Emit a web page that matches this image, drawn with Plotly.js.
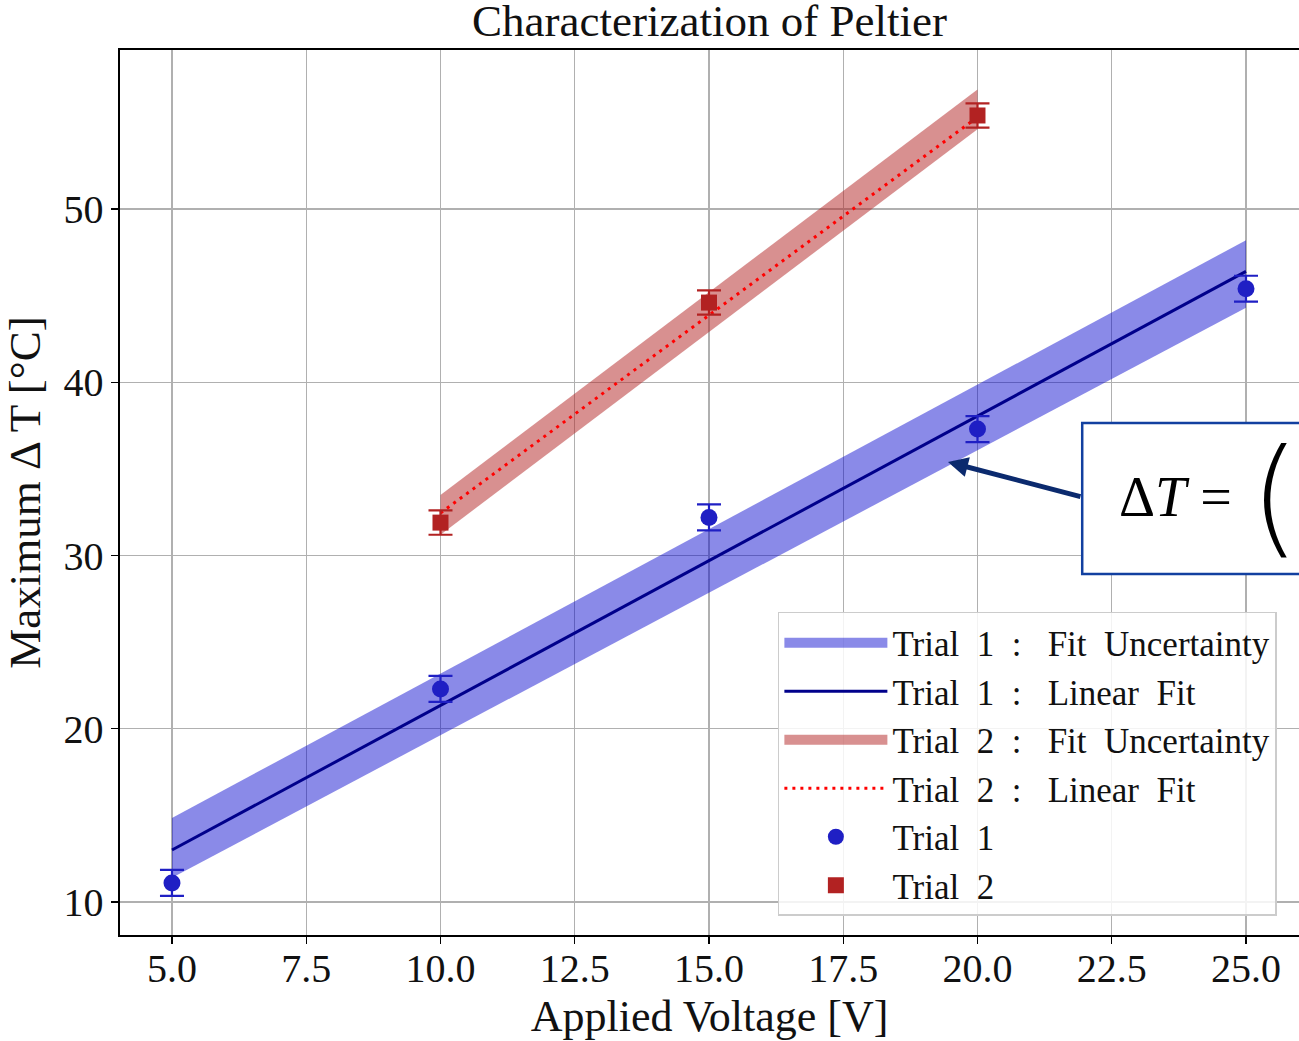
<!DOCTYPE html>
<html>
<head>
<meta charset="utf-8">
<script src="https://cdn.plot.ly/plotly-3.0.1.min.js"></script>
<style>html,body{margin:0;padding:0;background:#fff}#chart{width:1299px;height:1041px}</style>
</head>
<body>
<div id="chart"></div>
<script>
// ---- data ----
const voltage1 = [5, 10, 15, 20, 25];
const deltaT1 = [11.1, 22.3, 32.2, 37.3, 45.4];
const err1 = [0.75, 0.75, 0.75, 0.75, 0.75];

const voltage2 = [10, 15, 20];
const deltaT2 = [31.9, 44.6, 55.4];
const err2 = [0.7, 0.7, 0.7];

const fitX1 = [5, 25];
const fitY1 = [13.0, 46.4];
const fitUpper1 = [14.85, 48.2];
const fitLower1 = [11.4, 44.3];

const fitX2 = [10, 20];
const fitY2 = [32.45, 55.3];
const fitUpper2 = [33.5, 56.9];
const fitLower2 = [31.2, 54.6];

const xTickVals = [5, 7.5, 10, 12.5, 15, 17.5, 20, 22.5, 25];
const xTickText = ["5.0", "7.5", "10.0", "12.5", "15.0", "17.5", "20.0", "22.5", "25.0"];
const yTickVals = [10, 20, 30, 40, 50];

const NB = "\u00A0";
const S2 = NB + " ";
const labels = [
  "Trial" + S2 + "1" + S2 + ":" + NB + NB + " Fit" + S2 + "Uncertainty",
  "Trial" + S2 + "1" + S2 + ":" + NB + NB + " Linear" + S2 + "Fit",
  "Trial" + S2 + "2" + S2 + ":" + NB + NB + " Fit" + S2 + "Uncertainty",
  "Trial" + S2 + "2" + S2 + ":" + NB + NB + " Linear" + S2 + "Fit",
  "Trial" + S2 + "1",
  "Trial" + S2 + "2"
];

const FONT = "Liberation Serif, DejaVu Serif, serif";
const BLUE_BAND = "rgba(0,0,205,0.46)";
const RED_BAND = "rgba(178,34,34,0.5)";

function band(x, up, lo) {
  return {
    x: x.concat(x.slice().reverse()),
    y: up.concat(lo.slice().reverse())
  };
}
const b1 = band(fitX1, fitUpper1, fitLower1);
const b2 = band(fitX2, fitUpper2, fitLower2);

const traces = [
  // legend swatches for the bands (no data drawn)
  {x: [null], y: [null], type: "scatter", mode: "lines", legendgroup: "b1",
   line: {color: BLUE_BAND, width: 28}, name: labels[0], hoverinfo: "skip"},
  {x: b1.x, y: b1.y, type: "scatter", mode: "none", fill: "toself", legendgroup: "b1",
   fillcolor: BLUE_BAND, showlegend: false, hoverinfo: "skip"},
  {x: fitX1, y: fitY1, type: "scatter", mode: "lines",
   line: {color: "#00008b", width: 3}, name: labels[1]},
  {x: [null], y: [null], type: "scatter", mode: "lines", legendgroup: "b2",
   line: {color: RED_BAND, width: 28}, name: labels[2], hoverinfo: "skip"},
  {x: b2.x, y: b2.y, type: "scatter", mode: "none", fill: "toself", legendgroup: "b2",
   fillcolor: RED_BAND, showlegend: false, hoverinfo: "skip"},
  {x: fitX2, y: fitY2, type: "scatter", mode: "lines",
   line: {color: "#ff0000", width: 3, dash: "3px,5px"}, name: labels[3]},
  {x: voltage1, y: deltaT1, type: "scatter", mode: "markers",
   marker: {color: "#1f1fc4", size: 17, symbol: "circle"},
   error_y: {type: "data", array: err1, visible: true, color: "#1f1fc4", thickness: 2.2, width: 12},
   name: labels[4]},
  {x: voltage2, y: deltaT2, type: "scatter", mode: "markers",
   marker: {color: "#b22222", size: 16, symbol: "square"},
   error_y: {type: "data", array: err2, visible: true, color: "#b22222", thickness: 2.2, width: 12},
   name: labels[5]}
];

const layout = {
  width: 1299, height: 1041,
  margin: {l: 120, r: 0, t: 50, b: 106, pad: 0},
  paper_bgcolor: "#ffffff", plot_bgcolor: "#ffffff",
  font: {family: FONT, color: "#000000"},
  showlegend: true,
  title: {text: "Characterization of Peltier", font: {family: FONT, size: 45, color: "#111"},
          x: 0.5, xref: "paper", xanchor: "center", y: 0.996, yref: "container", yanchor: "top", pad: {t: 0}},
  xaxis: {
    range: [4.032, 25.987], tickmode: "array", tickvals: xTickVals, ticktext: xTickText,
    showgrid: true, gridcolor: "#b0b0b0", gridwidth: 1.3, zeroline: false,
    showline: true, linecolor: "#000", linewidth: 1.6, mirror: true,
    ticks: "outside", ticklen: 7, tickwidth: 1.3, tickcolor: "#000",
    tickfont: {family: FONT, size: 40, color: "#111"},
    ticklabelstandoff: -10,
    title: {text: "Applied Voltage [V]", font: {family: FONT, size: 44, color: "#111"}, standoff: 10},
    automargin: false
  },
  yaxis: {
    range: [8.095, 59.18], tickmode: "array", tickvals: yTickVals,
    showgrid: true, gridcolor: "#b0b0b0", gridwidth: 1.3, zeroline: false,
    showline: true, linecolor: "#000", linewidth: 1.6, mirror: false,
    ticks: "outside", ticklen: 7, tickwidth: 1.3, tickcolor: "#000",
    tickfont: {family: FONT, size: 40, color: "#111"},
    title: {text: "Maximum Δ T [°C]", font: {family: FONT, size: 45, color: "#111"}, standoff: 10},
    automargin: false
  },
  legend: {
    x: 0.558, y: 0.0215, xanchor: "left", yanchor: "bottom",
    bgcolor: "rgba(255,255,255,0.85)", bordercolor: "#cccccc", borderwidth: 1.5,
    font: {family: FONT, size: 35, color: "#111"},
    itemwidth: 103, tracegroupgap: 0, traceorder: "normal"
  },
  shapes: [
    {type: "rect", xref: "x", yref: "y", x0: 21.95, x1: 27.5, y0: 28.93, y1: 37.65,
     line: {color: "#1240a0", width: 2.5}, fillcolor: "#ffffff", layer: "above"}
  ],
  annotations: [
    {x: 19.45, y: 35.4, xref: "x", yref: "y", text: "", showarrow: true,
     ax: 134, ay: 35, arrowcolor: "#0b2a6e", arrowwidth: 5, arrowhead: 2, arrowsize: 0.8, standoff: 0},
    {x: 22.6, y: 33.38, xref: "x", yref: "y", text: "Δ<i>T</i>" + NB + "=", showarrow: false,
     xanchor: "left", yanchor: "middle", font: {family: FONT, size: 56, color: "#000"}},
    {x: 25.04, y: 33.4, xref: "x", yref: "y", text: "(", showarrow: false,
     xanchor: "left", yanchor: "middle", font: {family: "DejaVu Sans", weight: 200, size: 128, color: "#000"}}
  ]
};

Plotly.newPlot("chart", traces, layout, {staticPlot: true, displayModeBar: false});
</script>
</body>
</html>
